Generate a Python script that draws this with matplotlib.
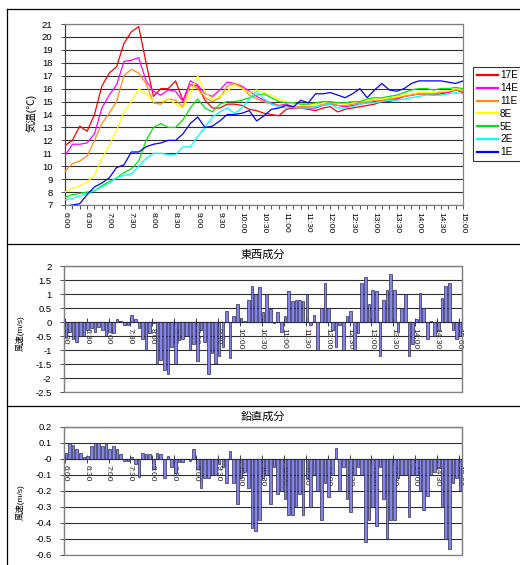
import matplotlib
matplotlib.use('Agg')
import matplotlib.pyplot as plt
import numpy as np
from matplotlib.lines import Line2D
from matplotlib.patches import Rectangle

plt.rcParams['font.family'] = ['Liberation Sans', 'Noto Sans CJK JP', 'DejaVu Sans']
plt.rcParams['axes.unicode_minus'] = False

W, H = 520, 565

# ---------------- data ----------------
time_labels = ['6:00', '6:30', '7:00', '7:30', '8:00', '8:30', '9:00', '9:30', '10:00',
               '10:30', '11:00', '11:30', '12:00', '12:30', '13:00', '13:30', '14:00',
               '14:30', '15:00']
series_names = ['17E', '14E', '11E', '8E', '5E', '2E', '1E']
series_colors = ['#FF0000', '#FF00FF', '#FF8C1A', '#FFFF00', '#00E600', '#00FFFF', '#0000FF']

# temperature, every 10 minutes (index in 5-min steps)
temp_idx = list(range(0, 109, 2))
t17E = [11.6, 12.0, 13.1, 12.7, 14.0, 16.2, 17.2, 17.7, 19.5, 20.4, 20.8, 18.0, 15.4, 16.0, 16.0,
        16.6, 15.1, 16.3, 16.2, 15.1, 14.5, 14.5, 14.8, 14.8, 14.7, 14.4, 14.3, 14.1, 14.0, 13.9,
        14.4, 14.5, 14.5, 14.4, 14.3, 14.5, 14.6, 14.2, 14.4, 14.5, 14.6, 14.7, 14.8, 15.0, 15.0,
        15.2, 15.4, 15.5, 15.6, 15.6, 15.5, 15.6, 15.7, 15.9, 15.7]
t14E = [10.8, 11.7, 11.7, 11.8, 12.5, 14.5, 15.5, 16.3, 18.1, 18.2, 18.4, 16.6, 15.8, 15.5, 15.9,
        15.8, 15.0, 16.6, 16.3, 15.6, 15.4, 15.9, 16.5, 16.4, 16.2, 15.8, 15.4, 15.1, 14.9, 14.7,
        14.8, 14.6, 14.6, 14.5, 14.5, 14.7, 14.8, 14.7, 14.6, 14.7, 14.8, 14.9, 15.0, 15.1, 15.2,
        15.2, 15.4, 15.5, 15.6, 15.6, 15.6, 15.7, 15.7, 15.9, 15.8]
t11E = [9.6, 10.2, 10.4, 10.8, 12.0, 13.3, 14.1, 15.0, 17.0, 17.5, 17.2, 16.4, 14.9, 14.8, 15.2,
        15.1, 14.6, 16.3, 16.0, 15.3, 15.0, 15.3, 16.2, 16.4, 16.1, 15.5, 15.2, 15.0, 14.8, 14.7,
        14.7, 14.6, 14.6, 14.6, 14.6, 14.8, 14.9, 14.7, 14.7, 14.8, 14.9, 15.0, 15.1, 15.1, 15.2,
        15.3, 15.4, 15.5, 15.6, 15.6, 15.6, 15.7, 15.8, 15.9, 15.8]
t8E = [8.0, 8.3, 8.5, 8.8, 9.3, 10.6, 11.6, 12.8, 14.2, 15.0, 16.0, 15.6, 15.0, 15.0, 15.2,
       14.8, 14.5, 15.6, 17.0, 15.7, 15.2, 15.4, 15.8, 16.3, 16.0, 15.7, 15.9, 15.7, 15.5, 15.2,
       15.0, 14.9, 14.8, 14.8, 14.8, 14.9, 15.0, 14.9, 14.8, 14.9, 15.0, 15.1, 15.2, 15.2, 15.3,
       15.4, 15.5, 15.6, 15.7, 15.7, 15.7, 15.8, 15.8, 16.0, 15.9]
t5E = [7.6, 7.8, 7.9, 8.0, 8.1, 8.5, 8.8, 9.1, 9.5, 9.8, 10.4, 12.0, 13.0, 13.3, 13.0,
       13.0, 13.6, 14.5, 15.2, 14.5, 14.2, 14.8, 15.0, 15.0, 15.1, 15.3, 15.5, 15.6, 15.3, 15.0,
       14.9, 14.9, 14.8, 14.8, 14.9, 15.0, 15.0, 14.9, 14.9, 15.0, 15.0, 15.2, 15.3, 15.3, 15.4,
       15.5, 15.7, 15.9, 16.0, 16.0, 15.9, 16.0, 16.0, 16.1, 16.0]
t2E = [7.4, 7.5, 7.7, 7.9, 8.1, 8.4, 8.7, 9.1, 9.3, 9.4, 10.0, 10.6, 11.0, 11.0, 10.9,
       10.9, 11.5, 11.5, 12.3, 13.0, 13.8, 14.2, 14.5, 14.1, 14.5, 15.2, 15.8, 15.2, 14.8, 14.6,
       14.5, 14.6, 14.5, 14.5, 14.6, 14.7, 14.8, 14.5, 14.5, 14.6, 14.8, 14.9, 14.9, 15.0, 15.1,
       15.1, 15.2, 15.3, 15.4, 15.5, 15.5, 15.5, 15.6, 15.7, 15.6]
t1E = [6.9, 7.0, 7.1, 7.8, 8.4, 8.7, 9.1, 9.9, 10.1, 11.1, 11.1, 11.5, 11.7, 11.8, 12.0,
       12.0, 12.5, 13.3, 13.8, 13.0, 13.1, 13.5, 14.0, 14.0, 14.1, 14.3, 13.5, 13.9, 14.4, 14.5,
       14.7, 14.6, 15.1, 14.9, 15.6, 15.6, 15.7, 15.5, 15.3, 15.6, 16.0, 15.3, 15.9, 16.4, 15.9,
       15.8, 16.0, 16.4, 16.6, 16.6, 16.6, 16.6, 16.5, 16.4, 16.6]
temps = [t17E, t14E, t11E, t8E, t5E, t2E, t1E]

# wind components, every 5 minutes from 6:00 to 15:00 (109 values)
east_west = [-0.55, -0.35, -0.6, -0.7, -0.5, -0.5, -0.27, -0.23, -0.35, -0.18,
             -0.3, -0.5, -0.35, -0.4, 0.1, 0.02, -0.1, -0.1, 0.25, 0.12,
             -0.2, -0.6, -1.0, -0.4, -0.05, -1.5, -1.35, -1.7, -1.85, -0.9,
             -1.5, -0.65, -0.6, -0.5, -1.0, -0.8, -1.4, -0.3, -0.7, -1.85,
             -1.1, -1.45, -1.2, -0.9, 0.4, -1.3, 0.2, 0.65, 0.15, 0.05,
             0.8, 1.3, 1.0, 1.25, 0.35, 1.0, 0.45, -0.05, 0.35, -0.35,
             0.2, 1.1, 0.75, 0.8, 0.8, 0.75, 1.0, -0.1, 0.25, -1.0,
             0.5, 1.4, 0.5, -0.3, -0.9, -0.1, -1.0, 0.2, 0.4, -1.0,
             -0.4, 1.4, 1.6, 0.65, 1.15, 1.1, -1.2, 0.8, 1.15, 1.7,
             1.15, -0.35, 0.5, 1.0, -1.2, -0.8, 0.1, 1.05, 0.5, -0.6,
             0.05, -0.5, -0.3, 0.85, 1.3, 1.4, -0.3, -0.6, -0.5]
vertical = [0.04, 0.1, 0.09, 0.06, 0.04, 0.01, 0.02, 0.08, 0.1, 0.1,
            0.08, 0.1, 0.06, 0.08, 0.06, 0.03, -0.01, -0.01, 0.01, -0.03,
            -0.11, 0.04, 0.03, 0.03, -0.06, 0.04, 0.03, -0.12, 0.02, -0.05,
            -0.09, -0.02, -0.02, 0.0, -0.01, 0.06, -0.06, -0.18, -0.12, -0.12,
            -0.1, -0.1, -0.03, -0.05, -0.15, 0.05, -0.15, -0.28, -0.12, -0.08,
            -0.18, -0.43, -0.45, -0.38, -0.12, -0.1, -0.28, -0.05, -0.22, -0.2,
            -0.25, -0.35, -0.35, -0.3, -0.22, -0.35, -0.12, -0.3, -0.1, -0.2,
            -0.38, -0.15, -0.24, -0.1, 0.07, -0.2, -0.05, -0.25, -0.33, -0.1,
            -0.05, -0.1, -0.52, -0.38, -0.3, -0.42, -0.05, -0.25, -0.5, -0.38,
            -0.38, -0.12, -0.1, -0.1, -0.36, -0.1, -0.1, -0.2, -0.32, -0.23,
            -0.1, -0.08, -0.05, -0.3, -0.5, -0.56, -0.15, -0.12, -0.2]

# ---------------- helpers ----------------
def fx(px):
    return px / W

def fy(py):
    return 1 - py / H

def axes_px(x0, y0, x1, y1):
    return [fx(x0), fy(y1), (x1 - x0) / W, (y1 - y0) / H]

fig = plt.figure(figsize=(W / 100, H / 100), dpi=100)
fig.patch.set_facecolor('white')

# frames of the three chart objects
for seg in [([7, W + 5], [9, 9]), ([7, 7], [9, H + 5]), ([7, W + 5], [244, 244]),
            ([7, W + 5], [406, 406])]:
    fig.add_artist(Line2D([fx(v) for v in seg[0]], [fy(v) for v in seg[1]],
                          transform=fig.transFigure, color='black', lw=0.9))

major_pos = np.arange(0, 109, 6)
grid_col = '#303030'
frame_col = '#808080'
tick_fs = 6.8
xlab_fs = 6.0

# ---------------- top: temperature ----------------
ax1 = fig.add_axes(axes_px(65, 24, 463, 205))
for name, col, vals in zip(series_names, series_colors, temps):
    ax1.plot(temp_idx, vals, color=col, lw=0.9, label=name, zorder=3)
ax1.set_xlim(0, 108)
ax1.set_ylim(7, 21)
ax1.set_yticks(np.arange(7, 22, 1))
ax1.yaxis.grid(True, color=grid_col, lw=0.8)
ax1.set_axisbelow(True)
ax1.set_xticks(major_pos)
ax1.set_xticklabels(time_labels, rotation=-90, fontsize=xlab_fs)
ax1.set_xticks(np.arange(0, 109, 2), minor=True)
ax1.tick_params(axis='x', which='both', direction='out', length=3, width=0.6, color='#333333', pad=2)
ax1.tick_params(axis='y', direction='out', length=3, width=0.6, color='#333333', labelsize=tick_fs, pad=6)
for s in ax1.spines.values():
    s.set_color(frame_col)
    s.set_linewidth(0.9)
ax1.spines['left'].set_color('#404040')
fig.text(fx(31), fy(113), '気温(℃)', rotation=90, ha='center', va='center', fontsize=7.5)

leg = ax1.legend(loc='upper left', bbox_to_anchor=(fx(473), fy(67)), bbox_transform=fig.transFigure,
                 frameon=True, fancybox=False, edgecolor='black', fontsize=7.2,
                 handlelength=2.1, handletextpad=0.25, borderpad=0.35, labelspacing=0.28,
                 borderaxespad=0)
leg.get_frame().set_linewidth(0.8)
for h in leg.get_lines():
    h.set_linewidth(1.6)

# ---------------- bar chart helper ----------------
def bar_panel(rect, values, ylim, step, title, title_y, ylabel_y):
    ax = fig.add_axes(rect)
    x = np.arange(len(values))
    ax.bar(x, values, width=0.72, color='#8383EA', edgecolor='#1A1A40', linewidth=0.45, zorder=3)
    ax.set_xlim(-0.5, len(values) - 0.5)
    ax.set_ylim(*ylim)
    yt = np.round(np.arange(ylim[0], ylim[1] + step / 2, step), 2)
    ax.set_yticks(yt)
    ax.set_yticklabels(['%g' % v for v in yt])
    ax.yaxis.grid(True, color=grid_col, lw=0.8)
    ax.set_axisbelow(True)
    ax.spines['bottom'].set_position(('data', 0))
    ax.spines['bottom'].set_color('#202020')
    ax.spines['bottom'].set_linewidth(0.8)
    for k in ['top', 'left', 'right']:
        ax.spines[k].set_color(frame_col)
        ax.spines[k].set_linewidth(0.9)
    ax.add_patch(Rectangle((0, 0), 1, 1, transform=ax.transAxes, fill=False,
                           edgecolor=frame_col, lw=0.9, zorder=4, clip_on=False))
    ax.set_xticks(major_pos - 0.3)
    ax.set_xticklabels(time_labels, rotation=-90, fontsize=xlab_fs, color='#202020')
    ax.tick_params(axis='x', direction='inout', length=6, width=0.6, color='#202020', pad=1)
    ax.tick_params(axis='y', direction='out', length=3, width=0.6, color='#333333',
                   labelsize=tick_fs, pad=6)
    fig.text(fx(263), fy(title_y), title, ha='center', va='center', fontsize=8)
    fig.text(fx(20), fy(ylabel_y), '風速(m/s)', rotation=90, ha='center', va='center', fontsize=6)
    return ax

bar_panel(axes_px(64, 266, 462, 392), east_west, (-2.5, 2.0), 0.5, '東西成分', 255, 333)
bar_panel(axes_px(64, 427, 462, 555), vertical, (-0.6, 0.2), 0.1, '鉛直成分', 417, 502)

fig.savefig('out.png', dpi=100, facecolor='white')
